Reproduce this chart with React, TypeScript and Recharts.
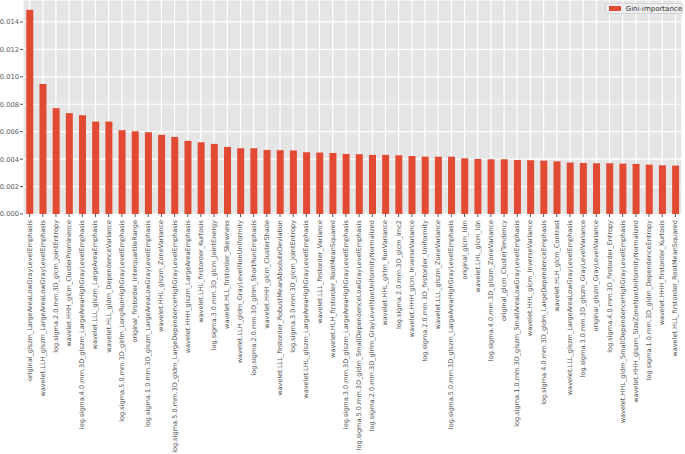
import React from "react";
import { BarChart, Bar, XAxis, YAxis, CartesianGrid } from "recharts";

// feature names, ordered by importance
const features: string[] = [
  "original_glszm_LargeAreaLowGrayLevelEmphasis",
  "wavelet.LLH_glszm_LargeAreaLowGrayLevelEmphasis",
  "log.sigma.2.0.mm.3D_glcm_JointEntropy",
  "wavelet.HHH_glcm_ClusterProminence",
  "log.sigma.4.0.mm.3D_glszm_LargeAreaHighGrayLevelEmphasis",
  "wavelet.LLL_glszm_LargeAreaEmphasis",
  "wavelet.HLL_gldm_DependenceVariance",
  "log.sigma.5.0.mm.3D_glrlm_LongRunHighGrayLevelEmphasis",
  "original_firstorder_InterquartileRange",
  "log.sigma.1.0.mm.3D_glszm_LargeAreaLowGrayLevelEmphasis",
  "wavelet.HHL_glszm_ZoneVariance",
  "log.sigma.5.0.mm.3D_gldm_LargeDependenceHighGrayLevelEmphasis",
  "wavelet.HHH_glszm_LargeAreaEmphasis",
  "wavelet.LHL_firstorder_Kurtosis",
  "log.sigma.3.0.mm.3D_glcm_JointEnergy",
  "wavelet.HLL_firstorder_Skewness",
  "wavelet.LLH_gldm_GrayLevelNonUniformity",
  "log.sigma.2.0.mm.3D_glrlm_ShortRunEmphasis",
  "wavelet.HHH_glcm_ClusterShade",
  "wavelet.LLL_firstorder_RobustMeanAbsoluteDeviation",
  "log.sigma.3.0.mm.3D_glcm_JointEntropy",
  "wavelet.LHL_glszm_LargeAreaHighGrayLevelEmphasis",
  "wavelet.LLL_firstorder_Variance",
  "wavelet.HLH_firstorder_RootMeanSquared",
  "log.sigma.3.0.mm.3D_glszm_LargeAreaHighGrayLevelEmphasis",
  "log.sigma.5.0.mm.3D_gldm_SmallDependenceLowGrayLevelEmphasis",
  "log.sigma.2.0.mm.3D_glrlm_GrayLevelNonUniformityNormalized",
  "wavelet.HHL_glrlm_RunVariance",
  "log.sigma.2.0.mm.3D_glcm_Imc2",
  "wavelet.HHH_glcm_InverseVariance",
  "log.sigma.2.0.mm.3D_firstorder_Uniformity",
  "wavelet.LLL_glszm_ZoneVariance",
  "log.sigma.5.0.mm.3D_glszm_LargeAreaHighGrayLevelEmphasis",
  "original_glcm_Idm",
  "wavelet.LHL_glcm_Idn",
  "log.sigma.4.0.mm.3D_glszm_ZoneVariance",
  "original_glcm_ClusterTendency",
  "log.sigma.1.0.mm.3D_glszm_SmallAreaLowGrayLevelEmphasis",
  "wavelet.HHL_glcm_InverseVariance",
  "log.sigma.4.0.mm.3D_gldm_LargeDependenceEmphasis",
  "wavelet.HLH_glcm_Contrast",
  "wavelet.LLL_glszm_LargeAreaLowGrayLevelEmphasis",
  "log.sigma.3.0.mm.3D_glszm_GrayLevelVariance",
  "original_glszm_GrayLevelVariance",
  "log.sigma.4.0.mm.3D_firstorder_Entropy",
  "wavelet.HHL_gldm_SmallDependenceHighGrayLevelEmphasis",
  "wavelet.HHH_glszm_SizeZoneNonUniformityNormalized",
  "log.sigma.1.0.mm.3D_gldm_DependenceEntropy",
  "wavelet.HHH_firstorder_Kurtosis",
  "wavelet.HLL_firstorder_RootMeanSquared",
];

// Gini importance
const importance: number[] = [
  0.01489, 0.00947, 0.00771, 0.00735, 0.0072, 0.00674, 0.00674, 0.00611, 0.00603, 0.00596,
  0.00577, 0.00562, 0.00533, 0.00523, 0.00511, 0.00489, 0.00479, 0.00479, 0.00467, 0.00465,
  0.00463, 0.0045, 0.00448, 0.00445, 0.00438, 0.00436, 0.00431, 0.00431, 0.00428, 0.00423,
  0.00418, 0.00418, 0.00418, 0.00406, 0.00401, 0.00399, 0.00399, 0.00394, 0.00392, 0.00389,
  0.00384, 0.00375, 0.00372, 0.0037, 0.0037, 0.00367, 0.00365, 0.0036, 0.00355, 0.00353,
];

const yTicks = [0, 0.002, 0.004, 0.006, 0.008, 0.01, 0.012, 0.014];

const data = features.map((name, i) => ({ name, gini: importance[i] }));

const FONT = "'DejaVu Sans', sans-serif";
const RED = "#E24A33";

function XTick({ x, y, payload }: any) {
  return (
    <text
      x={x}
      y={y}
      transform={`rotate(-90, ${x}, ${y})`}
      textAnchor="end"
      dominantBaseline="central"
      fontSize={6.55}
      fontFamily={FONT}
      fill="#555"
    >
      {payload.value}
    </text>
  );
}

export default function App() {
  return (
    <div style={{ position: "absolute", left: 0, top: 0, width: 685, height: 454, background: "#fff" }}>
      <BarChart
        width={685}
        height={454}
        data={data}
        barCategoryGap="25%"
        margin={{ top: 0, right: 3, left: 0, bottom: 0 }}
      >
        <CartesianGrid fill="#E5E5E5" stroke="#fff" strokeWidth={1.2} />
        <XAxis
          dataKey="name"
          interval={0}
          height={240}
          tick={<XTick />}
          tickSize={3}
          tickMargin={3}
          axisLine={false}
          tickLine={{ stroke: "#555" }}
        />
        <YAxis
          domain={[0, 0.0156]}
          ticks={yTicks}
          width={23}
          tickFormatter={(v: number) => v.toFixed(3)}
          tick={{ fontSize: 6.7, fill: "#555", fontFamily: FONT }}
          tickSize={3}
          tickMargin={1}
          axisLine={false}
          tickLine={{ stroke: "#555" }}
        />
        <Bar dataKey="gini" name="Gini-importance" fill={RED} isAnimationActive={false} />
      </BarChart>
      <div
        style={{
          position: "absolute",
          top: 3,
          left: 605,
          width: 78,
          height: 11,
          boxSizing: "border-box",
          display: "flex",
          alignItems: "center",
          gap: 5,
          background: "#EEEEEE",
          border: "1px solid #d4d4d4",
          borderRadius: 2,
          paddingLeft: 3,
          fontFamily: FONT,
          fontSize: 7,
          color: "#333",
          whiteSpace: "nowrap",
        }}
      >
        <span style={{ display: "inline-block", width: 13, height: 5, background: RED }} />
        <span>Gini-importance</span>
      </div>
    </div>
  );
}
